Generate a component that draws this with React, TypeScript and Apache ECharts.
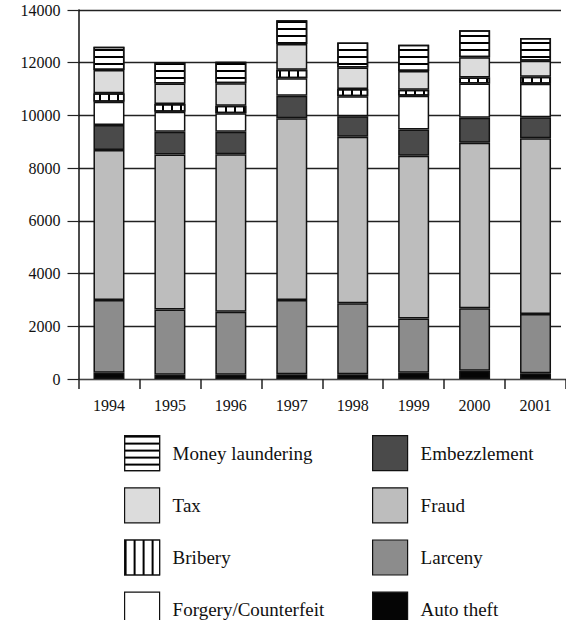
import React, { useEffect, useRef } from "react";
import * as echarts from "echarts";

const years = ["1994", "1995", "1996", "1997", "1998", "1999", "2000", "2001"];
const autoTheft = [240, 160, 160, 180, 180, 240, 310, 220];
const larceny = [2760, 2480, 2390, 2820, 2690, 2060, 2370, 2250];
const fraud = [5690, 5880, 5980, 6890, 6320, 6170, 6280, 6660];
const embezzlement = [950, 860, 850, 860, 780, 1000, 950, 800];
const forgery = [880, 760, 700, 660, 760, 1280, 1300, 1270];
const bribery = [320, 290, 290, 320, 270, 220, 230, 270];
const tax = [880, 780, 850, 980, 820, 720, 770, 600];
const moneyLaundering = [890, 800, 820, 900, 950, 990, 1020, 870];

const yMin = 0;
const yMax = 14000;
const yStep = 2000;

const leftLegend = ["Money laundering", "Tax", "Bribery", "Forgery/Counterfeit"];
const rightLegend = ["Embezzlement", "Fraud", "Larceny", "Auto theft"];

const FONT = "'Liberation Serif', 'Times New Roman', serif";

export default function App() {
  const ref = useRef<HTMLDivElement>(null);

  useEffect(() => {
    if (!ref.current) return;
    const chart = echarts.init(ref.current, undefined, { renderer: "svg" });

    const border = { borderColor: "#111", borderWidth: 1.5 };
    const mk = (name: string, data: number[], color: string, decal?: any) => ({
      name,
      type: "bar",
      stack: "total",
      data,
      barWidth: 31,
      itemStyle: { color, ...border, ...(decal ? { decal } : {}) },
      emphasis: { disabled: true },
    });

    const hLines = {
      symbol: "rect",
      symbolSize: 1,
      dashArrayX: [1, 0],
      dashArrayY: [1.5, 4.5],
      color: "#000",
      rotation: 0,
    };
    const vLines = {
      symbol: "rect",
      symbolSize: 1,
      dashArrayX: [1.5, 6.25],
      dashArrayY: [1, 0],
      color: "#000",
      rotation: 0,
    };

    const legendCommon = {
      orient: "vertical",
      top: 435,
      height: 240,
      itemWidth: 35,
      itemHeight: 35,
      itemGap: 16,
      icon: "rect",
      padding: 0,
      selectedMode: false,
      itemStyle: { borderColor: "#111", borderWidth: 1.2 },
      textStyle: {
        fontFamily: FONT,
        fontSize: 19,
        color: "#111",
        padding: [0, 0, 0, 8],
      },
    };

    chart.setOption({
      animation: false,
      backgroundColor: "#fff",
      grid: { left: 78.5, top: 10, width: 492, bottom: 241, containLabel: false },
      legend: [
        { ...legendCommon, left: 124, data: leftLegend },
        { ...legendCommon, left: 372, data: rightLegend },
      ],
      xAxis: {
        type: "category",
        data: years,
        boundaryGap: true,
        axisLine: { show: true, lineStyle: { color: "#444", width: 1.2 } },
        axisTick: { show: true, alignWithLabel: false, length: 10, lineStyle: { color: "#222", width: 1.5 } },
        axisLabel: { margin: 18, fontFamily: FONT, fontSize: 16, color: "#111" },
        splitLine: { show: false },
      },
      yAxis: {
        type: "value",
        min: yMin,
        max: yMax,
        interval: yStep,
        axisLine: { show: true, lineStyle: { color: "#111", width: 1.5 } },
        axisTick: { show: true, length: 11, lineStyle: { color: "#222", width: 1.2 } },
        axisLabel: {
          margin: 18,
          fontFamily: FONT,
          fontSize: 16,
          color: "#111",
          formatter: (v: number) => String(v),
        },
        splitLine: { show: true, lineStyle: { color: "#222", width: 1.3 } },
      },
      graphic: [
        { type: "rect", left: 561, top: 0, shape: { width: 6, height: 378 }, style: { fill: "#fff" }, z: 100 },
      ],
      series: [
        mk("Auto theft", autoTheft, "#050505"),
        mk("Larceny", larceny, "#8c8c8c"),
        mk("Fraud", fraud, "#bdbdbd"),
        mk("Embezzlement", embezzlement, "#4a4a4a"),
        mk("Forgery/Counterfeit", forgery, "#ffffff"),
        mk("Bribery", bribery, "#ffffff", vLines),
        mk("Tax", tax, "#dcdcdc"),
        mk("Money laundering", moneyLaundering, "#ffffff", hLines),
      ],
    });

    return () => chart.dispose();
  }, []);

  return (
    <div
      ref={ref}
      style={{ position: "absolute", left: 0, top: 0, width: 566, height: 620 }}
    />
  );
}
